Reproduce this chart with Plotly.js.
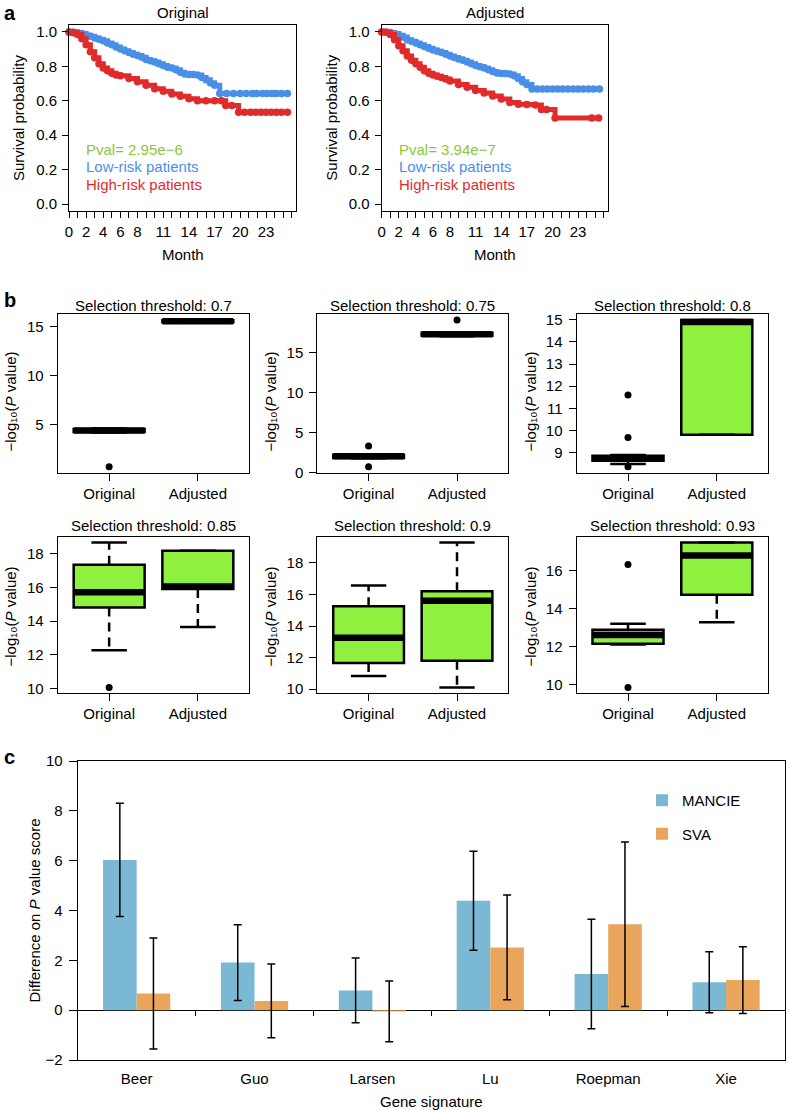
<!DOCTYPE html>
<html><head><meta charset="utf-8">
<script src="https://cdn.plot.ly/plotly-3.0.1.min.js"></script>
<style>html,body{margin:0;padding:0;background:#fff}#chart{width:788px;height:1110px}</style>
</head><body><div id="chart"></div>
<script>
// ---------- Panel a: Kaplan-Meier curves ----------
const monthTicks = [0,2,4,6,8,11,14,17,20,23];
const survTicks = [0,0.2,0.4,0.6,0.8,1.0];

const origLowT = [0,0.5,1,1.5,2,2.5,3,3.5,4,4.5,5,5.5,6,6.5,7,7.5,8,8.5,9,9.5,10,10.5,11,11.5,12,12.5,13,13.5,14,14.5,15,15.5,16,16.5,17,17.6,18.4,19.2,20,20.7,21.4,21.9,22.6,23.1,23.7,24.2,24.8,25.5];
const origLowS = [1,1,0.995,0.99,0.98,0.975,0.965,0.957,0.948,0.935,0.925,0.912,0.9,0.89,0.88,0.87,0.863,0.853,0.84,0.832,0.825,0.815,0.805,0.795,0.79,0.78,0.765,0.755,0.752,0.752,0.75,0.735,0.722,0.705,0.69,0.642,0.642,0.642,0.642,0.642,0.642,0.642,0.642,0.642,0.642,0.642,0.642,0.642];
const origHighT = [0,0.5,1,1.5,2,2.5,3,3.5,4,4.5,5,5.5,6,7,8,9,10,11,12,13,14,15,16,17,17.8,18.3,19,19.8,20.5,21.2,21.8,22.4,23,23.6,24.2,24.8,25.5];
const origHighS = [1,0.995,0.985,0.96,0.925,0.885,0.85,0.815,0.79,0.775,0.76,0.75,0.745,0.73,0.71,0.69,0.67,0.655,0.64,0.627,0.612,0.6,0.6,0.6,0.6,0.573,0.573,0.534,0.534,0.534,0.534,0.534,0.534,0.534,0.534,0.534,0.534];
const adjLowT = [0,0.5,1,1.5,2,2.5,3,3.5,4,4.5,5,5.5,6,6.5,7,7.5,8,8.5,9,9.5,10,10.5,11,11.5,12,12.5,13,13.5,14,14.5,15,15.5,16,16.5,17,17.6,18.2,18.8,19.4,20,20.6,21.2,21.8,22.4,23,23.6,24.2,24.8,25.5];
const adjLowS = [1,1,0.997,0.99,0.98,0.97,0.955,0.945,0.935,0.925,0.915,0.905,0.895,0.888,0.88,0.87,0.86,0.852,0.843,0.835,0.825,0.815,0.805,0.797,0.79,0.78,0.77,0.762,0.758,0.758,0.756,0.745,0.73,0.71,0.694,0.668,0.668,0.668,0.668,0.668,0.668,0.668,0.668,0.668,0.668,0.668,0.668,0.668,0.668];
const adjHighT = [0,0.5,1,1.5,2,2.5,3,3.5,4,4.5,5,5.5,6,6.5,7,7.5,8,9,10,11,12,13,14,15,16,17,18,18.7,19.3,20.3,24.6,25.4];
const adjHighS = [1,0.998,0.985,0.955,0.92,0.89,0.86,0.835,0.815,0.795,0.775,0.76,0.75,0.742,0.735,0.727,0.715,0.695,0.678,0.66,0.645,0.628,0.61,0.59,0.58,0.578,0.575,0.55,0.55,0.5,0.5,0.5];
const pvalTexts = ['Pval= 2.95e\u22126','Pval= 3.94e\u22127'];
const kmTitles = ['Original','Adjusted'];

// ---------- Panel b: box plots ----------
const thresholds = ['0.7','0.75','0.8','0.85','0.9','0.93'];
const groups = ['Original','Adjusted'];
const q1s     = [[4.25,15.4],[1.8,17.1],[8.62,9.8],[14.8,15.9],[11.65,11.8],[12.15,14.73]];
const medians = [[4.4,15.5],[2.0,17.3],[8.72,14.9],[15.7,16.05],[13.25,15.6],[12.6,16.8]];
const q3s     = [[4.55,15.6],[2.2,17.5],[8.85,15.0],[17.33,18.16],[15.25,16.2],[12.88,17.48]];
const lowW    = [[4.2,15.35],[1.75,17.05],[8.48,9.8],[12.28,13.65],[10.83,10.1],[12.1,13.28]];
const highW   = [[4.6,15.65],[2.25,17.55],[8.88,15.0],[18.65,18.16],[16.57,19.3],[13.2,17.48]];
const outliers = [[[0.7],[]],[[3.3,0.69],[19.1]],[[11.6,9.68,8.35],[]],[[10.07],[]],[[],[]],[[16.32,9.84],[]]];
const yTickSteps = [5,5,1,2,2,2];

// ---------- Panel c: grouped bars ----------
const signatures = ['Beer','Guo','Larsen','Lu','Roepman','Xie'];
const mancie    = [6.03,1.91,0.79,4.39,1.45,1.12];
const mancieErr = [2.27,1.52,1.30,1.99,2.20,1.22];
const sva       = [0.67,0.37,-0.05,2.52,3.45,1.21];
const svaErr    = [2.23,1.48,1.22,2.10,3.30,1.34];

// ---------- geometry / style ----------
const W = 788, H = 1110;
const px = v => v / W;
const py = v => 1 - v / H;
const FONT = 'Liberation Sans, Arial, Helvetica, DejaVu Sans, sans-serif';
const BLUE = '#4A8FE7', RED = '#E12B2B', GREEN_TXT = '#8CC63E';
const BOXGREEN = '#90F040';
const C_MANCIE = '#7BB8D3', C_SVA = '#E9A55B';

const axBase = {
  showline: true, linecolor: 'black', linewidth: 1, mirror: true,
  ticks: 'outside', tickcolor: 'black', ticklen: 6, tickwidth: 1,
  showgrid: false, zeroline: false, fixedrange: true,
  tickfont: {family: FONT, size: 15, color: 'black'}
};

const traces = [];
const layout = {
  width: W, height: H, margin: {l: 0, r: 0, t: 0, b: 0},
  paper_bgcolor: 'white', plot_bgcolor: 'white',
  font: {family: FONT, size: 15, color: 'black'},
  barmode: 'group', bargap: 0.43, bargroupgap: 0,
  showlegend: true,
  annotations: []
};
const ann = (text, x, y, o) => layout.annotations.push(Object.assign({
  text, x: px(x), y: py(y), xref: 'paper', yref: 'paper', showarrow: false,
  xanchor: 'center', yanchor: 'middle', font: {family: FONT, size: 15, color: 'black'}
}, o || {}));

// ---------- Panel a ----------
const kmX = [[69, 296], [381.7, 608]];
const kmY = [25, 211];
const kmSeries = [[origLowT, origLowS, origHighT, origHighS], [adjLowT, adjLowS, adjHighT, adjHighS]];
kmSeries.forEach((s, k) => {
  const xa = k === 0 ? 'x' : 'x2', ya = k === 0 ? 'y' : 'y2';
  [[s[0], s[1], BLUE], [s[2], s[3], RED]].forEach(([t, v, c]) => {
    traces.push({type: 'scatter', mode: 'lines+markers', x: t, y: v, xaxis: xa, yaxis: ya,
      line: {shape: 'hv', color: c, width: 5}, marker: {color: c, size: 7.5},
      showlegend: false, hoverinfo: 'skip', cliponaxis: false});
  });
  const sfx = k === 0 ? '' : '2';
  layout['xaxis' + sfx] = Object.assign({}, axBase, {
    domain: [px(kmX[k][0]), px(kmX[k][1])], range: [0, 26.5], anchor: 'y' + sfx,
    tickvals: monthTicks, ticklabelstandoff: 1,
    minor: {dtick: 1, tick0: 0, ticks: 'outside', ticklen: 6, tickcolor: 'black', tickwidth: 1, showgrid: false}});
  layout['yaxis' + sfx] = Object.assign({}, axBase, {
    domain: [py(kmY[1]), py(kmY[0])], range: [-0.04, 1.04], anchor: 'x' + sfx,
    tickvals: survTicks, tickformat: '.1f', ticklabelstandoff: 2});
  const cx = (kmX[k][0] + kmX[k][1]) / 2;
  ann(kmTitles[k], cx, 12.5);
  ann('Month', cx, 254);
  ann('Survival probability', kmX[k][0] - 51, 118, {textangle: -90});
  ann(pvalTexts[k], kmX[k][0] + 15, 149.3, {xanchor: 'left', font: {family: FONT, size: 15, color: GREEN_TXT}});
  ann('Low-risk patients', kmX[k][0] + 15, 166.8, {xanchor: 'left', font: {family: FONT, size: 15, color: BLUE}});
  ann('High-risk patients', kmX[k][0] + 15, 184.3, {xanchor: 'left', font: {family: FONT, size: 15, color: RED}});
});

// ---------- Panel b ----------
const colX = [[57.7, 249.3], [317.3, 508.3], [576.5, 768.3]];
const rowY = [[314, 472.7], [536.7, 693.3]];
const titleY = [305, 525.5];
const ylabY = [402, 617];
const ylabX = [9.5, 269.5, 529.5];
const boxPos = [1, 2];
thresholds.forEach((thr, i) => {
  const n = i + 3, xa = 'x' + n, ya = 'y' + n;
  const r = Math.floor(i / 3), c = i % 3;
  const common = {xaxis: xa, yaxis: ya, showlegend: false, hoverinfo: 'skip'};
  // boxes (interquartile range)
  traces.push(Object.assign({type: 'bar', x: boxPos, base: q1s[i],
    y: q3s[i].map((v, j) => v - q1s[i][j]), width: 0.8, textposition: 'none',
    marker: {color: BOXGREEN, line: {color: 'black', width: 2.5}}}, common));
  // dashed whiskers, solid staples, thick medians
  const wx = [], wy = [], capx = [], capy = [], mx = [], my = [];
  boxPos.forEach((p, j) => {
    wx.push(p, p, null, p, p, null);
    wy.push(q3s[i][j], highW[i][j], null, q1s[i][j], lowW[i][j], null);
    capx.push(p - 0.2, p + 0.2, null, p - 0.2, p + 0.2, null);
    capy.push(highW[i][j], highW[i][j], null, lowW[i][j], lowW[i][j], null);
    mx.push(p - 0.4, p + 0.4, null);
    my.push(medians[i][j], medians[i][j], null);
  });
  traces.push(Object.assign({type: 'scatter', mode: 'lines', x: wx, y: wy,
    line: {color: 'black', width: 2.5, dash: '9px,6px'}}, common));
  traces.push(Object.assign({type: 'scatter', mode: 'lines', x: capx, y: capy,
    line: {color: 'black', width: 2.5}}, common));
  traces.push(Object.assign({type: 'scatter', mode: 'lines', x: mx, y: my,
    line: {color: 'black', width: 6.5}}, common));
  // outliers
  const ox = [], oy = [];
  boxPos.forEach((p, j) => outliers[i][j].forEach(v => { ox.push(p); oy.push(v); }));
  traces.push(Object.assign({type: 'scatter', mode: 'markers', x: ox, y: oy,
    marker: {color: 'black', size: 7}, cliponaxis: false}, common));
  // R-style range: data extent widened by 4%
  const all = [].concat(lowW[i], highW[i], outliers[i][0], outliers[i][1]);
  const lo = Math.min(...all), hi = Math.max(...all), span = hi - lo;
  layout['xaxis' + n] = Object.assign({}, axBase, {
    domain: [px(colX[c][0]), px(colX[c][1])], range: [0.42, 2.58], anchor: ya,
    tickvals: boxPos, ticktext: groups, ticklen: 7, ticklabelstandoff: 0});
  layout['yaxis' + n] = Object.assign({}, axBase, {
    domain: [py(rowY[r][1]), py(rowY[r][0])], range: [lo - 0.04 * span, hi + 0.04 * span],
    anchor: xa, dtick: yTickSteps[i], tick0: 0, ticklen: 7, ticklabelstandoff: 3});
  ann('Selection threshold: ' + thr, (colX[c][0] + colX[c][1]) / 2, titleY[r]);
  ann('\u2212log\u2081\u2080(<i>P</i> value)', ylabX[c], ylabY[r], {textangle: -90});
});

// ---------- Panel c ----------
const cX = [77.7, 785], cY = [761, 1060];
const yRangeC = [-2, 10];
traces.push({type: 'bar', name: 'MANCIE', x: signatures, y: mancie, xaxis: 'x9', yaxis: 'y9',
  marker: {color: C_MANCIE}, legendgroup: 'm', hoverinfo: 'skip', textposition: 'none',
  error_y: {type: 'data', array: mancieErr, visible: true, color: 'black', thickness: 1.5, width: 4}});
traces.push({type: 'bar', name: 'SVA', x: signatures, y: sva, xaxis: 'x9', yaxis: 'y9',
  marker: {color: C_SVA}, legendgroup: 's', hoverinfo: 'skip', textposition: 'none',
  error_y: {type: 'data', array: svaErr, visible: true, color: 'black', thickness: 1.5, width: 4}});
// helper trace so the boundary-tick axis is drawn
traces.push({type: 'scatter', mode: 'markers', x: [0], y: [0], xaxis: 'x10', yaxis: 'y9',
  marker: {opacity: 0}, showlegend: false, hoverinfo: 'skip'});
const dC = [py(cY[1]), py(cY[0])];
layout.xaxis9 = Object.assign({}, axBase, {domain: [px(cX[0]), px(cX[1])], type: 'category',
  range: [-0.5, signatures.length - 0.5], ticks: '', anchor: 'y9', ticklabelstandoff: 5});
layout.yaxis9 = Object.assign({}, axBase, {domain: dC, range: yRangeC, dtick: 2, anchor: 'x9',
  ticklen: 8, ticklabelstandoff: 3, zeroline: true, zerolinecolor: 'black', zerolinewidth: 1.2});
layout.xaxis10 = {overlaying: 'x9', anchor: 'free', side: 'bottom',
  position: dC[0] + (0 - yRangeC[0]) / (yRangeC[1] - yRangeC[0]) * (dC[1] - dC[0]),
  range: [-0.5, signatures.length - 0.5], showline: false, showgrid: false, zeroline: false,
  tickvals: signatures.map((s, j) => j - 0.5).concat([signatures.length - 0.5]),
  ticks: 'outside', ticklen: 5, tickcolor: 'black', tickwidth: 1, showticklabels: false, fixedrange: true};
ann('Difference on <i>P</i> value score', 34, 910.5, {textangle: -90});
ann('Gene signature', (cX[0] + cX[1]) / 2, 1101.5);
layout.legend = {x: px(642), y: py(784), xanchor: 'left', yanchor: 'top',
  bgcolor: 'rgba(0,0,0,0)', traceorder: 'grouped', tracegroupgap: 11,
  font: {family: FONT, size: 15, color: 'black'}};

// panel letters
ann('<b>a</b>', 2, 0, {xanchor: 'left', yanchor: 'top', font: {family: FONT, size: 20, color: 'black'}});
ann('<b>b</b>', 2, 287, {xanchor: 'left', yanchor: 'top', font: {family: FONT, size: 20, color: 'black'}});
ann('<b>c</b>', 2, 744, {xanchor: 'left', yanchor: 'top', font: {family: FONT, size: 20, color: 'black'}});

Plotly.newPlot('chart', traces, layout, {staticPlot: true, displayModeBar: false});
</script></body></html>
